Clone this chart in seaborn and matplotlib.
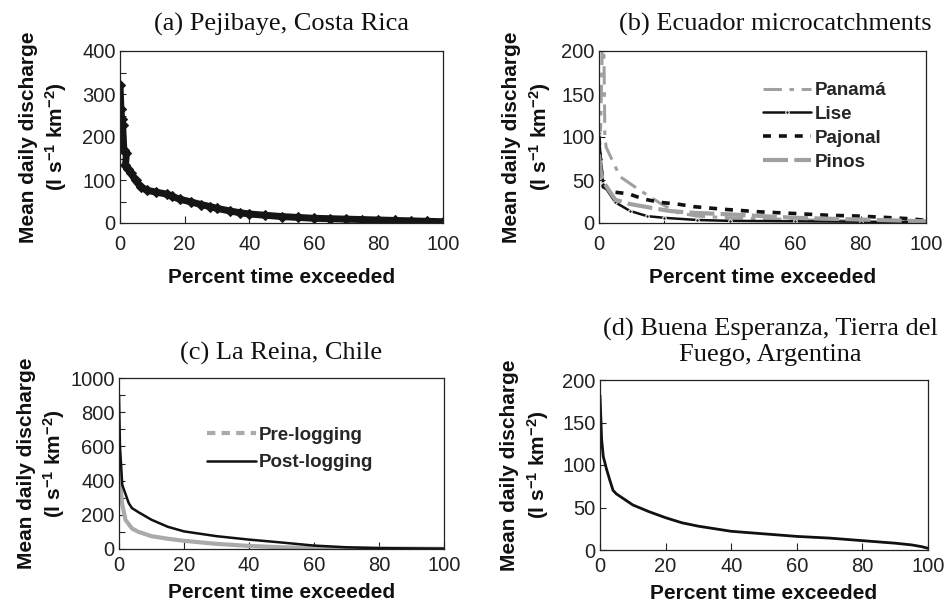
import numpy as np
import pandas as pd
import matplotlib
matplotlib.use("Agg")
import matplotlib.pyplot as plt
import seaborn as sns

# ---------------- data ----------------
# (a) Pejibaye, Costa Rica
a_pct = [0, 0.3, 0.5, 0.8, 1.2, 2.0, 1.7, 2.5, 3.3, 4.8, 6.4, 8.4, 11, 14.6, 16, 18.7, 22, 25, 28, 30, 34, 37, 40, 45, 50, 55, 60, 65, 70, 75, 80, 85, 90, 95, 100]
a_val = [322, 264, 242, 229, 170, 163, 134, 125, 117, 99, 84, 76, 72, 67, 62, 55, 49, 43, 38, 34, 28, 24, 21, 18, 15, 13, 11, 10, 9, 8, 7, 6, 5, 4, 3]

# (b) Ecuador microcatchments
pan_pct = [0, 0.5, 1.0, 1.5, 1.8, 2.2, 6.4, 12.5, 18.7, 24, 30, 40, 60, 80, 100]
pan_val = [95, 110, 205, 200, 100, 88, 54, 38, 23, 12, 8, 6, 4, 2, 1]
lise_pct = [0, 0.5, 1.3, 5, 9.5, 14.7, 20, 30, 40, 60, 80, 100]
lise_val = [105, 75, 45, 24, 14, 8, 6, 3.5, 2.5, 2, 1.5, 1]
paj_pct = [0, 0.5, 1.3, 4.4, 9, 13.5, 18.7, 24, 29, 38, 49, 60, 70, 80, 90, 95, 100]
paj_val = [100, 70, 42, 36, 34, 28, 24, 22, 19, 16, 13, 11, 9, 8, 6, 5, 3]
pin_pct = [0, 0.5, 1.3, 5, 9.5, 15.5, 21.5, 28, 40, 60, 80, 100]
pin_val = [80, 60, 48, 27, 22, 18, 14, 12, 10, 6, 4, 2]

# (c) La Reina, Chile
post_pct = [0, 0.3, 1, 3, 4, 6, 10, 15, 20, 30, 40, 50, 60, 70, 80, 100]
post_val = [900, 600, 375, 268, 239, 215, 171, 130, 103, 75, 55, 38, 20, 10, 5, 2]
pre_pct = [0, 0.5, 1, 2, 4, 6, 10, 15, 20, 30, 40, 50, 60, 80, 100]
pre_val = [500, 350, 260, 170, 120, 100, 75, 60, 48, 30, 18, 10, 6, 3, 1]

# (d) Buena Esperanza, Tierra del Fuego
d_pct = [0, 0.5, 1, 2, 3, 4, 5, 10, 15, 20, 25, 30, 40, 50, 60, 70, 80, 90, 95, 98, 100]
d_val = [182, 130, 110, 95, 82, 70, 66, 53, 45, 38, 32, 28, 22, 19, 16, 14, 11, 8, 6, 4, 2]

# ---------------- style ----------------
sns.set_style("ticks")
plt.rcParams['font.family'] = ['Liberation Sans', 'DejaVu Sans']
plt.rcParams['mathtext.fontset'] = 'custom'
plt.rcParams['mathtext.rm'] = 'Liberation Sans:bold'
plt.rcParams['mathtext.it'] = 'Liberation Sans:bold'
plt.rcParams['mathtext.bf'] = 'Liberation Sans:bold'

fig = plt.figure(figsize=(9.44, 6.08), dpi=100)

W, H = 944, 608
def add_ax(l, t, r, b):
    return fig.add_axes([l / W, 1 - b / H, (r - l) / W, (b - t) / H])

axa = add_ax(120, 51, 443, 223)
axb = add_ax(599, 51, 926, 223)
axc = add_ax(119, 378, 444, 549)
axd = add_ax(600, 380, 928, 550)

TICK_FS = 14.5
LAB_FS = 15
TITLE_FS = 19
ylab = "Mean daily discharge\n(l s$^{-1}$ km$^{-2}$)"
TXT = '#222222'

def style(ax, ymax, ymajor, yminor, xpad, xlabpad, ylab_x):
    ax.set_xlim(0, 100)
    ax.set_ylim(0, ymax)
    ax.set_xticks(np.arange(0, 101, 20))
    ax.set_yticks(np.arange(0, ymax + 1, ymajor))
    ax.set_yticks(np.arange(0, ymax + 1, yminor), minor=True)
    ax.tick_params(axis='y', which='both', direction='in', length=4, width=0.8,
                   labelsize=TICK_FS, colors=TXT, pad=3)
    ax.tick_params(axis='x', direction='in', length=5, width=0.8,
                   labelsize=TICK_FS, colors=TXT, pad=xpad)
    for s in ax.spines.values():
        s.set_visible(True)
        s.set_linewidth(0.9)
        s.set_color(TXT)
    ax.set_xlabel("Percent time exceeded", fontsize=LAB_FS, fontweight='bold',
                  labelpad=xlabpad, color='#111111')
    ax.set_ylabel(ylab, fontsize=LAB_FS, fontweight='bold',
                  linespacing=1.28, color='#111111')
    ax.yaxis.set_label_coords(ylab_x, 0.5)

# (a)
dfa = pd.DataFrame({'pct': a_pct, 'val': a_val})
sns.lineplot(data=dfa, x='pct', y='val', ax=axa, color='#151515', lw=5,
             marker='D', markersize=5, markeredgecolor='#151515', sort=False)
style(axa, 400, 100, 50, 9, 10, -0.158)
axa.set_title("(a) Pejibaye, Costa Rica", fontsize=TITLE_FS, family='Liberation Serif',
              pad=15, color='#111111')

# (b)
sns.lineplot(x=pan_pct, y=pan_val, ax=axb, color='#a0a0a0', lw=2.2, sort=False,
             linestyle=(0, (6, 2.5, 1.5, 2.5)), label='Panamá')
sns.lineplot(x=lise_pct, y=lise_val, ax=axb, color='#111111', lw=1.8, sort=False,
             marker='o', markersize=2.5, label='Lise')
sns.lineplot(x=paj_pct, y=paj_val, ax=axb, color='#111111', lw=2.6, sort=False,
             linestyle=(0, (2.2, 2.2)), label='Pajonal')
sns.lineplot(x=pin_pct, y=pin_val, ax=axb, color='#a0a0a0', lw=3.0, sort=False,
             linestyle=(0, (6, 1.5)), label='Pinos')
style(axb, 200, 50, 50, 9, 10, -0.141)
axb.set_title("(b) Ecuador microcatchments", fontsize=TITLE_FS, family='Liberation Serif',
              pad=15, x=0.54, color='#111111')
axb.legend(loc='upper left', bbox_to_anchor=(0.50, 0.82), frameon=False,
           prop={'weight': 'bold', 'size': 13.5}, handlelength=2.6, handletextpad=0.2,
           labelspacing=0.36, borderpad=0, borderaxespad=0)

# (c)
sns.lineplot(x=pre_pct, y=pre_val, ax=axc, color='#aaaaaa', lw=3.0, sort=False,
             label='Pre-logging')
sns.lineplot(x=post_pct, y=post_val, ax=axc, color='#111111', lw=1.8, sort=False,
             label='Post-logging')
style(axc, 1000, 200, 100, 5, 6, -0.16)
axc.set_title("(c) La Reina, Chile", fontsize=TITLE_FS, family='Liberation Serif',
              pad=13, color='#111111')
legc = axc.legend(loc='upper left', bbox_to_anchor=(0.27, 0.715), frameon=False,
                  prop={'weight': 'bold', 'size': 13.5}, handlelength=2.6, handletextpad=0.2,
                  labelspacing=0.55, borderpad=0, borderaxespad=0)
legc.get_lines()[0].set_linestyle((0, (2, 1.5)))

# (d)
sns.lineplot(x=d_pct, y=d_val, ax=axd, color='#111111', lw=2.0, sort=False)
style(axd, 200, 50, 50, 5, 6, -0.15)
axd.set_title("(d) Buena Esperanza, Tierra del\nFuego, Argentina", fontsize=TITLE_FS,
              family='Liberation Serif', pad=14, x=0.52, linespacing=1.15, color='#111111')

fig.savefig("out.png", dpi=100)
